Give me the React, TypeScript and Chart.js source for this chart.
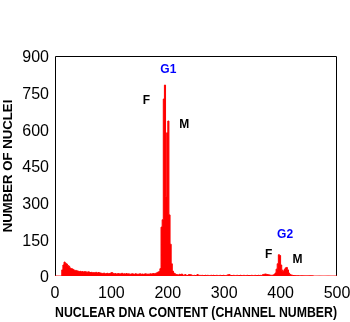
import React, { useEffect, useRef } from "react";
import { Chart, registerables } from "chart.js";

Chart.register(...registerables);

// Histogram: counts per 2-channel bin, channels 0..498
const BIN_WIDTH = 2;
const counts: number[] = [
  0, 0, 0, 0, 0, 0, 0, 25, 45, 57,
  52, 49, 43, 40, 33, 30, 29, 26, 22, 23,
  21, 20, 18, 19, 17, 18, 16, 18, 17, 15,
  17, 16, 14, 15, 13, 14, 13, 15, 12, 14,
  13, 12, 11, 10, 12, 9, 10, 11, 9, 10,
  12, 14, 11, 9, 10, 8, 9, 10, 8, 9,
  11, 8, 9, 8, 10, 8, 9, 7, 8, 9,
  8, 7, 9, 8, 7, 8, 9, 7, 8, 7,
  8, 9, 7, 8, 7, 9, 8, 9, 10, 9,
  11, 13, 16, 18, 30, 200, 230, 724, 781, 324,
  586, 634, 250, 130, 50, 20, 12, 9, 6, 5,
  4, 7, 6, 8, 4, 3, 6, 3, 2, 5,
  6, 5, 3, 2, 3, 2, 3, 6, 2, 3,
  2, 3, 2, 2, 3, 2, 3, 2, 2, 3,
  2, 3, 2, 2, 3, 2, 2, 3, 2, 2,
  3, 2, 2, 3, 5, 6, 3, 2, 2, 3,
  2, 2, 3, 2, 2, 3, 2, 2, 3, 2,
  2, 3, 2, 2, 2, 3, 2, 2, 3, 2,
  2, 3, 2, 3, 2, 6, 7, 8, 7, 6,
  5, 4, 3, 3, 4, 6, 12, 28, 50, 87,
  84, 45, 24, 18, 26, 33, 35, 25, 12, 6,
  4, 3, 2, 2, 2, 1, 2, 1, 1, 1,
  1, 1, 1, 1, 1, 1, 1, 1, 1, 1,
  0, 0, 0, 0, 0, 0, 0, 0, 0, 0,
  0, 0, 0, 0, 0, 0, 0, 0, 0, 0,
];

const X_MAX = 500;
const Y_MAX = 900;
const xTickValues = [0, 100, 200, 300, 400, 500];
const yTickValues = [0, 150, 300, 450, 600, 750, 900];

const xTitle = "NUCLEAR DNA CONTENT (CHANNEL NUMBER)";
const yTitle = "NUMBER OF NUCLEI";

// peak annotations (anchored in data units: channel, count)
const noteTexts = ["G1", "F", "M", "G2", "F", "M"];
const noteChannels = [201, 162, 229, 408, 379, 430];
const noteCounts = [843, 716, 621, 171, 87, 67];
const noteIsPhase = [true, false, false, true, false, false];

const FONT = "Arial, 'Liberation Sans', Helvetica, sans-serif";

export default function App() {
  const canvasRef = useRef<HTMLCanvasElement | null>(null);

  useEffect(() => {
    const canvas = canvasRef.current;
    if (!canvas) return;

    const points = counts.map((c, i) => ({ x: i * BIN_WIDTH, y: c }));
    points.push({ x: X_MAX, y: 0 });

    const boxPlugin = {
      id: "box",
      beforeDatasetsDraw(chart: any) {
        const { ctx, chartArea } = chart;
        ctx.save();
        ctx.strokeStyle = "#000";
        ctx.lineWidth = 1;
        const l = Math.round(chartArea.left) + 0.5;
        const r = Math.round(chartArea.right) - 0.5;
        const t = Math.round(chartArea.top) + 0.5;
        const b = Math.round(chartArea.bottom);
        ctx.beginPath();
        ctx.moveTo(l, b);
        ctx.lineTo(l, t);
        ctx.lineTo(r, t);
        ctx.lineTo(r, b);
        ctx.stroke();
        ctx.restore();
      },
    };

    const notePlugin = {
      id: "notes",
      afterDatasetsDraw(chart: any) {
        const { ctx, scales } = chart;
        ctx.save();
        ctx.font = "bold 12px " + FONT;
        ctx.textAlign = "center";
        ctx.textBaseline = "middle";
        noteTexts.forEach((t, i) => {
          ctx.fillStyle = noteIsPhase[i] ? "#0000ff" : "#000000";
          ctx.fillText(t, scales.x.getPixelForValue(noteChannels[i]), scales.y.getPixelForValue(noteCounts[i]));
        });
        ctx.restore();
      },
    };

    const chart = new Chart(canvas, {
      type: "line",
      data: {
        datasets: [
          {
            data: points,
            stepped: "after",
            fill: "origin",
            backgroundColor: "#ff0000",
            borderColor: "#ff0000",
            borderWidth: 1,
            pointRadius: 0,
            tension: 0,
          },
        ],
      },
      options: {
        responsive: false,
        animation: false,
        events: [],
        layout: { padding: { left: 0, top: 56, right: 13, bottom: 0 } },
        plugins: { legend: { display: false }, tooltip: { enabled: false } },
        scales: {
          x: {
            type: "linear",
            min: 0,
            max: X_MAX,
            afterFit(scale: any) {
              scale.height = 46;
              scale.paddingLeft = 0;
              scale.paddingRight = 0;
            },
            afterBuildTicks(scale: any) {
              scale.ticks = xTickValues.map((v) => ({ value: v }));
            },
            grid: { display: false, drawTicks: false },
            border: { display: false },
            ticks: {
              padding: 8,
              maxRotation: 0,
              autoSkip: false,
              color: "#000",
              font: { family: FONT, size: 16 },
            },
            title: {
              display: true,
              text: xTitle,
              color: "#000",
              padding: { top: 0, bottom: 0 },
              font: { family: FONT, size: 15, weight: "bold" },
            },
          },
          y: {
            type: "linear",
            min: 0,
            max: Y_MAX,
            afterFit(scale: any) {
              scale.width = 55;
              scale.paddingTop = 0;
              scale.paddingBottom = 0;
            },
            afterBuildTicks(scale: any) {
              scale.ticks = yTickValues.map((v) => ({ value: v }));
            },
            grid: { display: false, drawTicks: false },
            border: { display: false },
            ticks: {
              padding: 6,
              labelOffset: 2,
              autoSkip: false,
              color: "#000",
              font: { family: FONT, size: 16 },
            },
            title: {
              display: true,
              text: yTitle,
              color: "#000",
              padding: { top: 0, bottom: 0 },
              font: { family: FONT, size: 13.2, weight: "bold" },
            },
          },
        },
      },
      plugins: [boxPlugin, notePlugin],
    } as any);

    return () => chart.destroy();
  }, []);

  return (
    <div style={{ position: "fixed", left: 0, top: 0, width: 350, height: 322, background: "#fff" }}>
      <canvas ref={canvasRef} width={350} height={322} style={{ display: "block" }} />
    </div>
  );
}
